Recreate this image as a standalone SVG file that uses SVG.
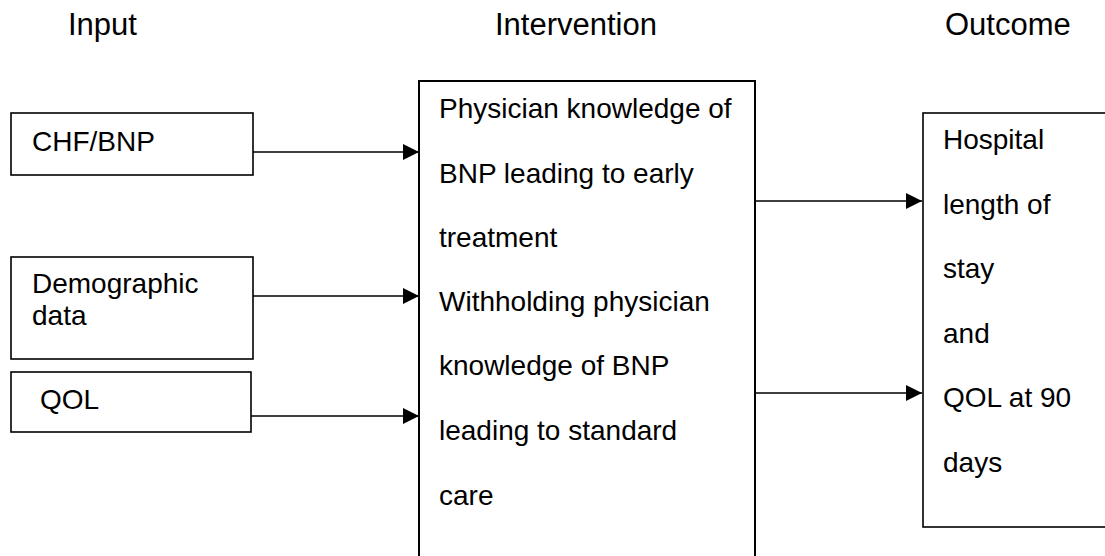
<svg xmlns="http://www.w3.org/2000/svg" width="1105" height="556" viewBox="0 0 1105 556">
<style>
text{font-family:"Liberation Sans",Arial,sans-serif;fill:#000}
.h{font-size:31px}
.t{font-size:28px}
.box{fill:#fff;stroke:#000;stroke-width:1.6}
.big{fill:#fff;stroke:#000;stroke-width:2}
.c{stroke:#000;stroke-width:1.5;fill:none;marker-end:url(#ah)}
</style>
<defs>
<marker id="ah" markerUnits="userSpaceOnUse" markerWidth="16" markerHeight="16" viewBox="0 0 15 15" refX="15" refY="7.5" orient="auto">
<path d="M0,0 L15,7.5 L0,15 Z" fill="#000"/>
</marker>
</defs>
<rect width="1105" height="556" fill="#fff"/>
<g id="headers">
<text class="h" x="68" y="35">Input</text>
<text class="h" x="495" y="35">Intervention</text>
<text class="h" x="945" y="35">Outcome</text>
</g>
<g id="chf">
<rect class="box" x="11" y="113" width="242" height="62"/>
<text class="t" x="32" y="151">CHF/BNP</text>
</g>
<g id="demographic">
<rect class="box" x="11" y="257" width="242" height="102"/>
<text class="t" x="32" y="293">Demographic</text>
<text class="t" x="32" y="325">data</text>
</g>
<g id="qol">
<rect class="box" x="11" y="372" width="240" height="60"/>
<text class="t" x="40" y="409">QOL</text>
</g>
<g id="intervention">
<rect class="big" x="419" y="81" width="336" height="520"/>
<text class="t" x="439" y="118">Physician knowledge of</text>
<text class="t" x="439" y="183">BNP leading to early</text>
<text class="t" x="439" y="247">treatment</text>
<text class="t" x="439" y="311">Withholding physician</text>
<text class="t" x="439" y="375">knowledge of BNP</text>
<text class="t" x="439" y="440">leading to standard</text>
<text class="t" x="439" y="505">care</text>
</g>
<g id="outcome">
<rect class="box" x="923" y="113" width="250" height="414"/>
<text class="t" x="943" y="149">Hospital</text>
<text class="t" x="943" y="214">length of</text>
<text class="t" x="943" y="278">stay</text>
<text class="t" x="943" y="343">and</text>
<text class="t" x="943" y="407">QOL at 90</text>
<text class="t" x="943" y="472">days</text>
</g>
<g id="connectors">
<line class="c" x1="253" y1="152" x2="419" y2="152"/>
<line class="c" x1="253" y1="296" x2="419" y2="296"/>
<line class="c" x1="251" y1="416" x2="419" y2="416"/>
<line class="c" x1="755" y1="201" x2="922" y2="201"/>
<line class="c" x1="755" y1="393" x2="922" y2="393"/>
</g>
</svg>
